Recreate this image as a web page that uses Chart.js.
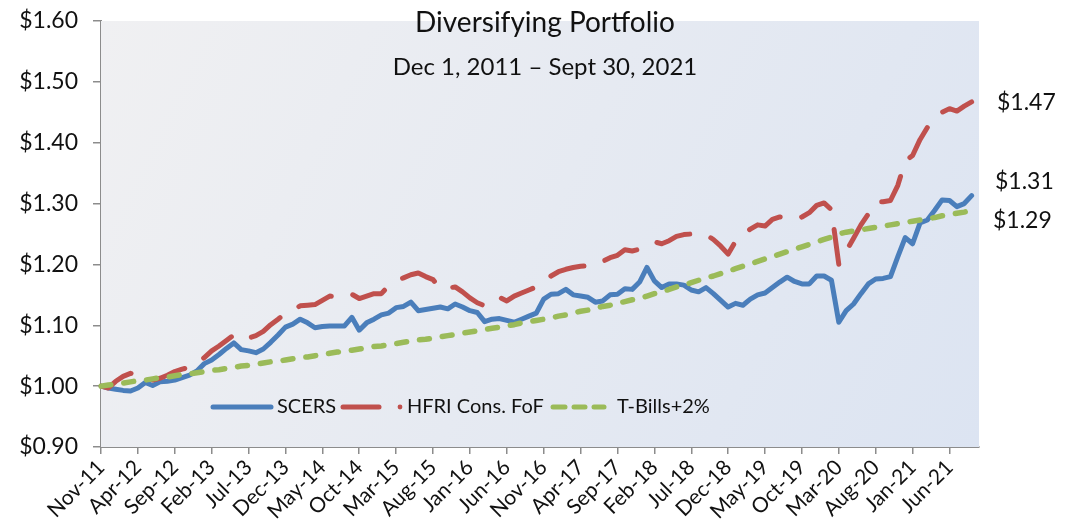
<!DOCTYPE html>
<html><head><meta charset="utf-8">
<script src="https://cdn.jsdelivr.net/npm/chart.js@4.4.0/dist/chart.umd.min.js"></script>
<style>html,body{margin:0;padding:0;background:#fff;}#wrap{width:1074px;height:528px;}</style>
</head><body><div id="wrap"><canvas id="c" width="1074" height="528"></canvas></div>
<script>
// Month categories Nov-11 .. Oct-21 (last category is an empty slot at the axis end)
const monthNames = ['Jan','Feb','Mar','Apr','May','Jun','Jul','Aug','Sep','Oct','Nov','Dec'];
const categories = [];
for (let i = 0; i < 120; i++) { const t = 10 + i; categories.push(monthNames[t % 12] + '-' + String(11 + Math.floor(t / 12))); }

const tickLabels = ['Nov-11','Apr-12','Sep-12','Feb-13','Jul-13','Dec-13','May-14','Oct-14','Mar-15','Aug-15','Jan-16','Jun-16','Nov-16','Apr-17','Sep-17','Feb-18','Jul-18','Dec-18','May-19','Oct-19','Mar-20','Aug-20','Jan-21','Jun-21'];
const yTicks = [0.90,1.00,1.10,1.20,1.30,1.40,1.50,1.60];

const scers = [1.000,0.997,0.995,0.993,0.992,0.997,1.006,1.001,1.007,1.008,
1.010,1.014,1.018,1.025,1.037,1.043,1.052,1.062,1.071,1.060,
1.058,1.055,1.061,1.072,1.084,1.097,1.102,1.110,1.104,1.096,
1.098,1.099,1.099,1.099,1.113,1.092,1.104,1.110,1.117,1.120,
1.129,1.131,1.138,1.124,1.126,1.128,1.130,1.127,1.135,1.130,
1.124,1.121,1.106,1.110,1.111,1.108,1.105,1.110,1.115,1.120,
1.143,1.151,1.152,1.159,1.150,1.148,1.146,1.138,1.140,1.150,
1.151,1.160,1.159,1.171,1.195,1.173,1.162,1.168,1.168,1.166,
1.158,1.155,1.162,1.152,1.141,1.130,1.136,1.133,1.143,1.150,
1.153,1.162,1.171,1.179,1.172,1.168,1.168,1.181,1.181,1.174,
1.105,1.124,1.135,1.152,1.168,1.176,1.177,1.180,1.213,1.244,
1.234,1.268,1.273,1.289,1.306,1.305,1.295,1.300,1.313];

const hfri = [1.000,0.997,1.008,1.016,1.021,1.020,1.015,1.010,1.013,1.018,
1.024,1.028,1.031,1.036,1.047,1.058,1.066,1.075,1.084,1.077,
1.079,1.083,1.090,1.101,1.110,1.120,1.125,1.132,1.133,1.134,
1.141,1.148,1.147,1.151,1.151,1.144,1.148,1.152,1.152,1.165,
1.173,1.178,1.183,1.186,1.180,1.175,1.160,1.161,1.163,1.155,
1.145,1.137,1.132,1.137,1.146,1.140,1.148,1.153,1.158,1.163,
1.172,1.181,1.188,1.192,1.195,1.197,1.198,1.199,1.205,1.211,
1.215,1.224,1.222,1.225,1.231,1.237,1.234,1.239,1.246,1.249,
1.250,1.250,1.249,1.241,1.230,1.217,1.238,1.250,1.258,1.265,
1.263,1.274,1.278,1.276,1.274,1.278,1.285,1.297,1.301,1.290,
1.200,1.222,1.243,1.265,1.283,1.303,1.303,1.305,1.330,1.370,
1.379,1.405,1.425,1.440,1.450,1.456,1.452,1.460,1.467];

const tbills = [1.000,1.002,1.003,1.005,1.007,1.009,1.010,1.012,1.014,1.015,
1.017,1.019,1.020,1.022,1.024,1.026,1.027,1.029,1.031,1.033,
1.034,1.036,1.038,1.040,1.041,1.043,1.045,1.047,1.048,1.050,
1.052,1.054,1.056,1.057,1.059,1.061,1.063,1.065,1.066,1.068,
1.070,1.072,1.074,1.076,1.077,1.079,1.081,1.083,1.085,1.087,
1.089,1.091,1.093,1.095,1.097,1.099,1.101,1.104,1.106,1.108,
1.110,1.112,1.115,1.117,1.120,1.123,1.125,1.128,1.131,1.133,
1.136,1.139,1.142,1.144,1.148,1.152,1.155,1.159,1.163,1.166,
1.170,1.174,1.178,1.181,1.185,1.189,1.193,1.197,1.201,1.205,
1.209,1.213,1.217,1.221,1.225,1.229,1.233,1.237,1.241,1.245,
1.250,1.253,1.255,1.257,1.259,1.261,1.263,1.265,1.267,1.269,
1.271,1.273,1.275,1.277,1.280,1.282,1.284,1.286,1.289];

const seriesNames = ['SCERS','HFRI Cons. FoF','T-Bills+2%'];
const endLabels = ['$1.31','$1.47','$1.29'];
const titleText = 'Diversifying Portfolio';
const subtitleText = 'Dec 1, 2011 \u2013 Sept 30, 2021';

const FONT = 'Lato, "Open Sans", sans-serif';
const BLUE = '#4A7EBB', RED = '#C0504D', GREEN = '#9BBB59';

const deco = {
  id: 'deco',
  beforeDatasetsDraw(chart) {
    const {ctx, chartArea: a} = chart;
    ctx.save();
    const g = ctx.createLinearGradient(a.left, a.top, a.right, a.bottom);
    g.addColorStop(0, '#F0F0F2');
    g.addColorStop(1, '#DCE4F2');
    ctx.fillStyle = g;
    ctx.fillRect(a.left, a.top, a.right - a.left, a.bottom - a.top);
    ctx.restore();
  },
  afterDatasetsDraw(chart) {
    const {ctx, chartArea: a, scales} = chart;
    ctx.save();
    ctx.fillStyle = '#111';
    ctx.textAlign = 'center';
    ctx.textBaseline = 'middle';
    ctx.font = '28px ' + FONT;
    ctx.fillText(titleText, 545, 23);
    ctx.font = '24px ' + FONT;
    ctx.fillText(subtitleText, 545, 67);

    // legend
    const ly = 407;
    ctx.lineCap = 'round';
    ctx.lineWidth = 5;
    ctx.strokeStyle = BLUE; ctx.setLineDash([]);
    ctx.beginPath(); ctx.moveTo(213, ly); ctx.lineTo(271, ly); ctx.stroke();
    ctx.strokeStyle = RED;
    ctx.beginPath(); ctx.moveTo(343, ly); ctx.lineTo(379, ly); ctx.stroke();
    ctx.fillStyle = RED;
    ctx.beginPath(); ctx.arc(400, ly, 2.4, 0, Math.PI * 2); ctx.fill();
    ctx.strokeStyle = GREEN;
    [[553,565],[574,585],[594,604]].forEach(s => { ctx.beginPath(); ctx.moveTo(s[0], ly); ctx.lineTo(s[1], ly); ctx.stroke(); });
    ctx.fillStyle = '#111';
    ctx.textAlign = 'left';
    ctx.font = '20px ' + FONT;
    ctx.fillText(seriesNames[0], 277, ly);
    ctx.fillText(seriesNames[1], 407, ly);
    ctx.fillText(seriesNames[2], 617, ly);

    // end labels
    const y = scales.y;
    ctx.font = '23px ' + FONT;
    ctx.fillText(endLabels[1], 997, y.getPixelForValue(hfri[hfri.length - 1]) + 1);
    ctx.fillText(endLabels[0], 995, y.getPixelForValue(scers[scers.length - 1]) - 14);
    ctx.fillText(endLabels[2], 993, y.getPixelForValue(tbills[tbills.length - 1]) + 10);
    ctx.restore();
  }
};

const common = { pointRadius: 0, borderWidth: 5, tension: 0, fill: false, borderCapStyle: 'round', borderJoinStyle: 'round' };

new Chart(document.getElementById('c'), {
  type: 'line',
  data: {
    labels: categories,
    datasets: [
      Object.assign({ label: seriesNames[2], data: tbills, borderColor: GREEN, borderDash: [10, 13] }, common, { borderWidth: 5.5 }),
      Object.assign({ label: seriesNames[1], data: hfri, borderColor: RED, borderDash: [35, 22] }, common),
      Object.assign({ label: seriesNames[0], data: scers, borderColor: BLUE }, common)
    ]
  },
  options: {
    responsive: false,
    animation: false,
    devicePixelRatio: 1,
    layout: { padding: { top: 21, right: 95, left: 0, bottom: 0 } },
    plugins: { legend: { display: false }, tooltip: { enabled: false } },
    scales: {
      x: {
        type: 'category',
        offset: false,
        afterFit(s) { s.height = 81; s.paddingLeft = 0; s.paddingRight = 0; },
        grid: { drawOnChartArea: false, drawTicks: true, tickLength: 7, color: '#8C8C8C', lineWidth: 1.5 },
        border: { color: '#8C8C8C', width: 2 },
        ticks: {
          autoSkip: false, maxRotation: 45, minRotation: 45, padding: 1,
          color: '#111', font: { family: FONT, size: 21 },
          callback(v, i) { const l = categories[i]; return tickLabels.includes(l) ? l : null; }
        }
      },
      y: {
        min: 0.9, max: 1.6,
        afterFit(s) { s.width = 101; s.paddingTop = 0; s.paddingBottom = 0; },
        afterBuildTicks(s) { s.ticks = yTicks.map(v => ({ value: v })); },
        grid: { drawOnChartArea: false, drawTicks: true, tickLength: 8, color: '#8C8C8C', lineWidth: 1.5 },
        border: { color: '#8C8C8C', width: 2 },
        ticks: { padding: 15, color: '#111', font: { family: FONT, size: 23 }, callback: v => '$' + Number(v).toFixed(2) }
      }
    }
  },
  plugins: [deco]
});
</script></body></html>
